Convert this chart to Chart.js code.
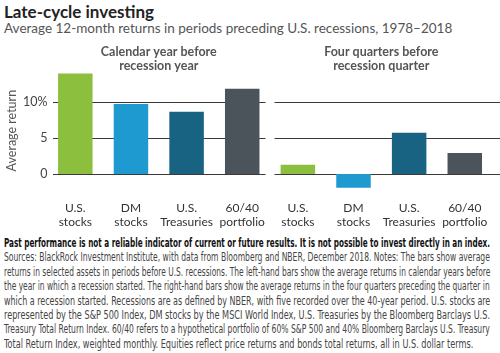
<!DOCTYPE html>
<html>
<head>
<meta charset="utf-8">
<script src="https://cdn.jsdelivr.net/npm/chart.js@4.4.0/dist/chart.umd.min.js"></script>
<style>
  html, body { margin: 0; padding: 0; background: #fff; }
  body { width: 500px; height: 353px; position: relative; overflow: hidden; font-family: Lato, "Open Sans", sans-serif; }
  #title { position: absolute; left: 4px; top: 1px; font-size: 17px; font-weight: bold; color: #222; }
  #subtitle { position: absolute; left: 4px; top: 20px; font-size: 13.5px; color: #555; }
  #chart-wrap { position: absolute; left: 0; top: 38px; width: 500px; height: 192px; }
  #notes { position: absolute; left: 4px; top: 236px; width: 486px; font-family: "Liberation Sans Narrow", "DejaVu Sans Condensed", sans-serif; font-size: 11.5px; line-height: 14.4px; color: #444; }
  #notes div { white-space: nowrap; height: 14.4px; }
  #notes span { display: inline-block; transform-origin: 0 0; }
  #notes .bold { font-weight: bold; color: #111; }
</style>
</head>
<body>
<div id="title">Late-cycle investing</div>
<div id="subtitle">Average 12-month returns in periods preceding U.S. recessions, 1978–2018</div>
<div id="chart-wrap"><canvas id="chart"></canvas></div>
<div id="notes">
  <div class="bold"><span>Past performance is not a reliable indicator of current or future results. It is not possible to invest directly in an index.</span></div>
  <div><span>Sources: BlackRock Investment Institute, with data from Bloomberg and NBER, December 2018. Notes: The bars show average</span></div>
  <div><span>returns in selected assets in periods before U.S. recessions. The left-hand bars show the average returns in calendar years before</span></div>
  <div><span>the year in which a recession started. The right-hand bars show the average returns in the four quarters preceding the quarter in</span></div>
  <div><span>which a recession started. Recessions are as defined by NBER, with five recorded over the 40-year period. U.S. stocks are</span></div>
  <div><span>represented by the S&amp;P 500 Index, DM stocks by the MSCI World Index, U.S. Treasuries by the Bloomberg Barclays U.S.</span></div>
  <div><span>Treasury Total Return Index. 60/40 refers to a hypothetical portfolio of 60% S&amp;P 500 and 40% Bloomberg Barclays U.S. Treasury</span></div>
  <div><span>Total Return Index, weighted monthly. Equities reflect price returns and bonds total returns, all in U.S. dollar terms.</span></div>
</div>
<script>
// Data
const assetLabels = [["U.S.", "stocks"], ["DM", "stocks"], ["U.S.", "Treasuries"], ["60/40", "portfolio"]];
const calendarYearReturns = [13.9, 9.7, 8.6, 11.8];
const fourQuarterReturns = [1.3, -1.9, 5.7, 2.9];
const assetColors = ["#8dbf3f", "#1f9ad0", "#176381", "#4b545b"];
const panelTitles = [["Calendar year before", "recession year"], ["Four quarters before", "recession quarter"]];
const yTicks = [0, 5, 10];

const labels = assetLabels.concat(assetLabels);
const values = calendarYearReturns.concat(fourQuarterReturns);
const colors = assetColors.concat(assetColors);

// Gridlines split into two panels, plus the panel headings
const panelGrid = {
  id: "panelGrid",
  beforeDatasetsDraw(chart) {
    const { ctx, chartArea, scales: { x, y } } = chart;
    const split = (x.getPixelForValue(3) + x.getPixelForValue(4)) / 2;
    const segs = [[chartArea.left + 5.5, split - 4.5], [split + 4.5, chart.width]];
    ctx.save();
    ctx.strokeStyle = "#3a3a3a";
    ctx.lineWidth = 1;
    yTicks.forEach((v) => {
      const py = Math.round(y.getPixelForValue(v)) + 0.5;
      segs.forEach((s) => {
        ctx.beginPath();
        ctx.moveTo(s[0], py);
        ctx.lineTo(s[1], py);
        ctx.stroke();
      });
    });
    ctx.restore();
  },
  afterDraw(chart) {
    const { ctx, chartArea, scales: { x } } = chart;
    ctx.save();
    ctx.font = "bold 12.5px Lato, 'Open Sans', sans-serif";
    ctx.fillStyle = "#555";
    ctx.textAlign = "center";
    ctx.textBaseline = "middle";
    panelTitles.forEach((lines, i) => {
      const cx = (x.getPixelForValue(i * 4) + x.getPixelForValue(i * 4 + 3)) / 2;
      ctx.fillText(lines[0], cx, chartArea.top - 20.8);
      ctx.fillText(lines[1], cx, chartArea.top - 6.8);
    });
    ctx.restore();
  }
};

new Chart(document.getElementById("chart"), {
  type: "bar",
  data: {
    labels: labels,
    datasets: [{
      data: values,
      backgroundColor: colors,
      borderWidth: 0,
      categoryPercentage: 1,
      barPercentage: 0.62
    }]
  },
  options: {
    responsive: true,
    maintainAspectRatio: false,
    animation: false,
    layout: { padding: { top: 34.8, right: 1.5, bottom: 0, left: 0 } },
    plugins: { legend: { display: false }, tooltip: { enabled: false } },
    scales: {
      x: {
        grid: { display: false, drawTicks: false },
        border: { display: false },
        ticks: { color: "#333", font: { family: "Lato, 'Open Sans', sans-serif", size: 12, lineHeight: 1.17 }, padding: 12.5, maxRotation: 0, autoSkip: false },
        afterFit(scale) { scale.height = 41.5; }
      },
      y: {
        min: -2,
        max: 14,
        grid: { display: false, drawTicks: false },
        border: { display: false },
        afterBuildTicks(scale) { scale.ticks = yTicks.map((v) => ({ value: v })); },
        ticks: {
          color: "#444",
          padding: 0,
          font: { family: "Lato, 'Open Sans', sans-serif", size: 12.5 },
          callback: (v) => (v === 10 ? "10%" : v)
        },
        title: { display: true, text: "Average return", color: "#555", font: { family: "Lato, 'Open Sans', sans-serif", size: 12.5 }, padding: { top: 4, bottom: 0 } },
        afterFit(scale) { scale.width = 47.5; }
      }
    }
  },
  plugins: [panelGrid]
});

// Fit each footnote line to the text block width
document.querySelectorAll("#notes span").forEach((s, i, all) => {
  const target = i === all.length - 1 ? 469 : 486;
  s.style.transform = "scaleX(" + (target / s.offsetWidth) + ")";
});
</script>
</body>
</html>
